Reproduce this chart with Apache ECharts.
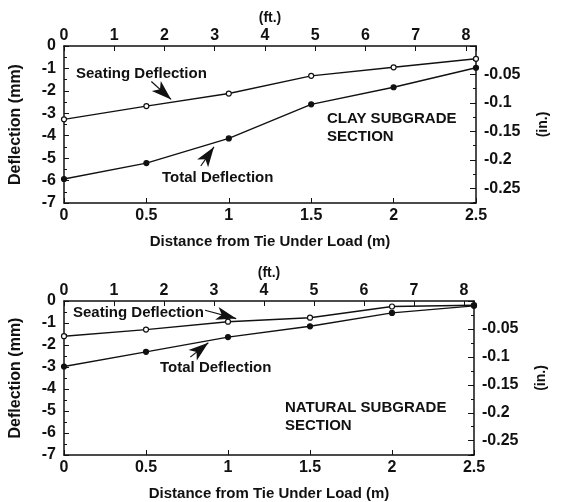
<!DOCTYPE html>
<html>
<head>
<meta charset="utf-8">
<script src="https://cdn.jsdelivr.net/npm/echarts@6/dist/echarts.min.js"></script>
<style>
  html, body { margin: 0; padding: 0; background: #fff; }
  #chart { width: 561px; height: 502px; }
</style>
</head>
<body>
<div id="chart"></div>
<script>
// Distance from the loaded tie (m)
const distanceM = [0, 0.5, 1, 1.5, 2, 2.5];

// Clay subgrade section, deflection in mm
const claySeating = [-3.27, -2.68, -2.12, -1.33, -0.95, -0.57];
const clayTotal   = [-5.93, -5.22, -4.12, -2.60, -1.84, -0.97];

// Natural subgrade section, deflection in mm
const naturalSeating = [-1.60, -1.30, -0.94, -0.76, -0.25, -0.19];
const naturalTotal   = [-2.98, -2.31, -1.64, -1.15, -0.54, -0.22];

// Tick labels
const mmTicks = [0, -1, -2, -3, -4, -5, -6, -7];
const inchTicks = [-0.05, -0.1, -0.15, -0.2, -0.25];
const ftTicks = [0, 1, 2, 3, 4, 5, 6, 7, 8];

const M_PER_FT = 0.3048;
const MM_PER_IN = 25.4;
const xMaxM = 2.5;
const yMinMM = -7;

const FONT = '"Liberation Sans", Arial, Helvetica, sans-serif';
const BLACK = '#111';
const TICK_FONT = 16;

const pair = (xs, ys) => xs.map((x, i) => [x, ys[i]]);
const labelFor = (list, v) => {
  const t = list.find(k => Math.abs(k - v) < 1e-6);
  return t === undefined ? '' : String(t);
};

function mAxis(grid) {
  return {
    type: 'value', gridIndex: grid, position: 'bottom',
    min: 0, max: xMaxM, interval: 0.5,
    name: 'Distance from Tie Under Load (m)', nameLocation: 'middle', nameGap: 31,
    nameTextStyle: { fontFamily: FONT, fontWeight: 'bold', fontSize: 15, color: BLACK },
    axisLine: { onZero: false, lineStyle: { color: BLACK, width: 1.5 } },
    axisTick: { inside: true, length: 5, lineStyle: { color: BLACK } },
    axisLabel: { fontFamily: FONT, fontWeight: 'bold', fontSize: TICK_FONT, color: BLACK, margin: 5,
      formatter: v => String(Math.round(v * 10) / 10) },
    splitLine: { show: false }
  };
}
function ftAxis(grid) {
  return {
    type: 'value', gridIndex: grid, position: 'top',
    min: 0, max: xMaxM / M_PER_FT, interval: 1,
    name: '(ft.)', nameLocation: 'middle', nameGap: 21,
    nameTextStyle: { fontFamily: FONT, fontWeight: 'bold', fontSize: 14, color: BLACK },
    axisLine: { onZero: false, lineStyle: { color: BLACK, width: 1.5 } },
    axisTick: { inside: true, length: 5, lineStyle: { color: BLACK } },
    axisLabel: { fontFamily: FONT, fontWeight: 'bold', fontSize: TICK_FONT, color: BLACK, margin: 2,
      formatter: v => labelFor(ftTicks, v) },
    splitLine: { show: false }
  };
}
function mmAxis(grid) {
  return {
    type: 'value', gridIndex: grid, position: 'left',
    min: yMinMM, max: 0, interval: 1,
    name: 'Deflection (mm)', nameLocation: 'middle', nameGap: 40, nameRotate: 90,
    nameTextStyle: { fontFamily: FONT, fontWeight: 'bold', fontSize: 16, color: BLACK },
    axisLine: { onZero: false, lineStyle: { color: BLACK, width: 1.5 } },
    axisTick: { inside: true, length: 5, lineStyle: { color: BLACK } },
    minorTick: { show: true, splitNumber: 2, length: 3, lineStyle: { color: BLACK } },
    axisLabel: { fontFamily: FONT, fontWeight: 'bold', fontSize: TICK_FONT, color: BLACK, margin: 8,
      formatter: v => labelFor(mmTicks, v) },
    splitLine: { show: false }, minorSplitLine: { show: false }
  };
}
function inAxis(grid) {
  // plotted as positive depth, inverted so 0 sits at the top like the mm axis
  return {
    type: 'value', gridIndex: grid, position: 'right', inverse: true,
    min: 0, max: -yMinMM / MM_PER_IN, interval: 0.05,
    name: '(in.)', nameLocation: 'middle', nameGap: 60, nameRotate: 90,
    nameTextStyle: { fontFamily: FONT, fontWeight: 'bold', fontSize: 14, color: BLACK },
    axisLine: { onZero: false, lineStyle: { color: BLACK, width: 1.5 } },
    axisTick: { inside: true, length: 6, lineStyle: { color: BLACK } },
    minorTick: { show: true, splitNumber: 2, length: 3, lineStyle: { color: BLACK } },
    axisLabel: { fontFamily: FONT, fontWeight: 'bold', fontSize: TICK_FONT, color: BLACK, margin: 8,
      formatter: v => labelFor(inchTicks, -v) },
    splitLine: { show: false }, minorSplitLine: { show: false }
  };
}

function curve(name, data, xi, yi, filled, arrow) {
  const s = {
    name, type: 'line', xAxisIndex: xi, yAxisIndex: yi, data,
    symbol: 'circle', symbolSize: 5, showSymbol: true,
    lineStyle: { color: BLACK, width: 1.4 },
    itemStyle: { color: filled ? BLACK : '#fff', borderColor: BLACK, borderWidth: 1.2 },
    emphasis: { disabled: true }, animation: false, z: 3
  };
  if (arrow) {
    s.markLine = {
      silent: true, animation: false,
      symbol: ['none', 'arrow'], symbolSize: [10, 20],
      label: { show: false },
      lineStyle: { color: BLACK, width: 1.2, type: 'solid' },
      data: [[{ coord: arrow[0] }, { coord: arrow[1] }]]
    };
  }
  return s;
}

const textStyle = { fontFamily: FONT, fontWeight: 'bold', fontSize: 15, fill: BLACK };

const chart = echarts.init(document.getElementById('chart'), null, { renderer: 'canvas' });
chart.setOption({
  backgroundColor: '#fff',
  animation: false,
  grid: [
    { left: 62, right: 85, top: 46, height: 157 },
    { left: 61, right: 87, top: 301, height: 160 }
  ],
  xAxis: [mAxis(0), ftAxis(0), mAxis(1), ftAxis(1)],
  yAxis: [mmAxis(0), inAxis(0), mmAxis(1), inAxis(1)],
  series: [
    curve('Seating Deflection', pair(distanceM, claySeating), 0, 0, false,
      [[0.53, -1.58], [0.65, -2.38]]),
    curve('Total Deflection', pair(distanceM, clayTotal), 0, 0, true,
      [[0.83, -5.35], [0.91, -4.5]]),
    curve('Seating Deflection', pair(distanceM, naturalSeating), 2, 2, false,
      [[0.86, -0.42], [1.05, -0.8]]),
    curve('Total Deflection', pair(distanceM, naturalTotal), 2, 2, true,
      [[0.77, -2.55], [0.88, -1.9]])
  ],
  graphic: [
    { type: 'text', left: 76, top: 66, style: Object.assign({ text: 'Seating Deflection' }, textStyle) },
    { type: 'text', left: 162, top: 170, style: Object.assign({ text: 'Total Deflection' }, textStyle) },
    { type: 'text', left: 327, top: 110, style: Object.assign({ text: 'CLAY SUBGRADE\nSECTION', lineHeight: 18 }, textStyle) },
    { type: 'text', left: 73, top: 305, style: Object.assign({ text: 'Seating Deflection' }, textStyle) },
    { type: 'text', left: 160, top: 360, style: Object.assign({ text: 'Total Deflection' }, textStyle) },
    { type: 'text', left: 285, top: 399, style: Object.assign({ text: 'NATURAL SUBGRADE\nSECTION', lineHeight: 18 }, textStyle) }
  ]
});
</script>
</body>
</html>
